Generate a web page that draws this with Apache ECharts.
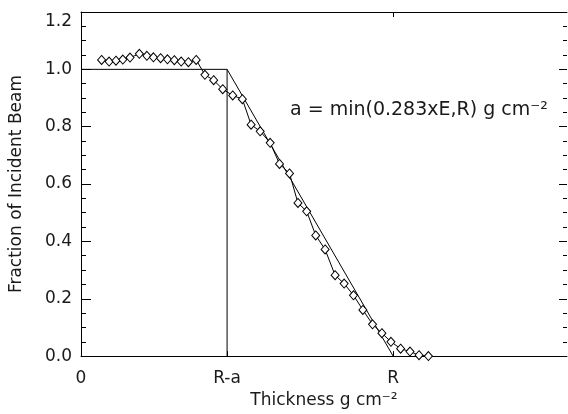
<!DOCTYPE html>
<html>
<head>
<meta charset="utf-8">
<script src="https://cdn.jsdelivr.net/npm/echarts@6/dist/echarts.min.js"></script>
<style>
html,body{margin:0;padding:0;background:#fff;}
#chart{width:568px;height:414px;}
</style>
</head>
<body>
<div id="chart"></div>
<script>
// Thickness in arbitrary units where R = 10
const thickness = [0.66,0.90,1.12,1.34,1.57,1.87,2.11,2.32,2.55,2.77,2.99,3.21,3.44,3.69,
  3.97,4.25,4.54,4.86,5.17,5.45,5.74,6.06,6.36,6.68,6.95,7.23,7.52,7.82,8.14,8.43,8.73,
  9.03,9.34,9.64,9.93,10.24,10.54,10.83,11.13];
const fraction = [1.033,1.027,1.030,1.034,1.041,1.054,1.047,1.042,1.039,1.035,1.032,1.027,1.025,1.033,
  0.981,0.962,0.931,0.909,0.896,0.807,0.784,0.744,0.670,0.637,0.534,0.505,0.421,0.372,0.282,0.253,0.212,
  0.161,0.111,0.080,0.050,0.026,0.016,0.003,0.000];
const modelX = [0, 4.68, 10];
const modelY = [1.0, 1.0, 0.0];
const stepX = [4.68, 4.68];
const stepY = [1.0, 0.0];
const xTickValues = [0, 4.68, 10];
const xTickLabels = ['0', 'R-a', 'R'];
const topTickValues = [10];
const yTickLabels = ['0.0','0.2','0.4','0.6','0.8','1.0','1.2'];
const annotation = 'a = min(0.283xE,R) g cm\u207B\u00B2';
const xTitle = 'Thickness g cm\u207B\u00B2';
const yTitle = 'Fraction of Incident Beam';

const FONT = 'DejaVu Sans';
const TXT = '#1a1a1a';
const chart = echarts.init(document.getElementById('chart'), null, {renderer:'canvas'});
const zip = (a,b) => a.map((v,i)=>[v,b[i]]);
chart.setOption({
  animation:false,
  backgroundColor:'#fff',
  grid:{left:81,right:1,top:12,bottom:57},
  xAxis:[{
    type:'value', min:0, max:15.57, position:'bottom',
    axisLine:{onZero:false, lineStyle:{color:'#000',width:1}},
    axisTick:{show:true, inside:true, length:5, customValues:xTickValues, lineStyle:{color:'#000'}},
    axisLabel:{customValues:xTickValues, formatter:(v)=>{const i=xTickValues.findIndex(t=>Math.abs(t-v)<1e-6);return i>=0?xTickLabels[i]:'';},
      color:TXT, fontFamily:FONT, fontSize:17, margin:14},
    splitLine:{show:false},
    name:xTitle, nameLocation:'middle', nameGap:34,
    nameTextStyle:{color:TXT, fontFamily:FONT, fontSize:17}
  },{
    type:'value', min:0, max:15.57, position:'top',
    axisLine:{show:true, onZero:false, lineStyle:{color:'#000',width:1}},
    axisTick:{show:true, inside:true, length:5, customValues:topTickValues, lineStyle:{color:'#000'}},
    axisLabel:{show:false}, splitLine:{show:false}
  }],
  yAxis:[{
    type:'value', min:0, max:1.2, interval:0.2, position:'left',
    axisLine:{show:true, onZero:false, lineStyle:{color:'#000',width:1}},
    axisTick:{show:true, inside:true, length:10, lineStyle:{color:'#000'}},
    minorTick:{show:true, splitNumber:4, length:5, lineStyle:{color:'#000'}},
    axisLabel:{formatter:(v)=>{const i=Math.round(v/0.2);return i===6?'{t|'+yTickLabels[i]+'}':yTickLabels[i];},
      rich:{t:{padding:[19,0,0,0], color:TXT, fontFamily:FONT, fontSize:17}},
      color:TXT, fontFamily:FONT, fontSize:17, margin:9},
    splitLine:{show:false}, minorSplitLine:{show:false},
    name:yTitle, nameLocation:'middle', nameGap:56,
    nameTextStyle:{color:TXT, fontFamily:FONT, fontSize:17}
  },{
    type:'value', min:0, max:1.2, interval:0.2, position:'right',
    axisLine:{show:false, onZero:false, lineStyle:{color:'#000',width:1}},
    axisTick:{show:true, inside:true, length:8, lineStyle:{color:'#000'}},
    minorTick:{show:true, splitNumber:4, length:4, lineStyle:{color:'#000'}},
    axisLabel:{show:false}, splitLine:{show:false}
  }],
  graphic:[{
    type:'text', left:290, top:101,
    style:{text:annotation, fill:TXT, font:'19px "DejaVu Sans"'}
  }],
  series:[{
    type:'line', data:zip(modelX,modelY), symbol:'none',
    lineStyle:{color:'#000',width:1}
  },{
    type:'line', data:zip(stepX,stepY), symbol:'none',
    lineStyle:{color:'#000',width:1}
  },{
    type:'line', data:zip(thickness,fraction), symbol:'diamond', symbolSize:[8,9],
    showAllSymbol:true,
    lineStyle:{color:'#000',width:1},
    itemStyle:{color:'#fff', borderColor:'#000', borderWidth:1}
  }]
});
</script>
</body>
</html>
